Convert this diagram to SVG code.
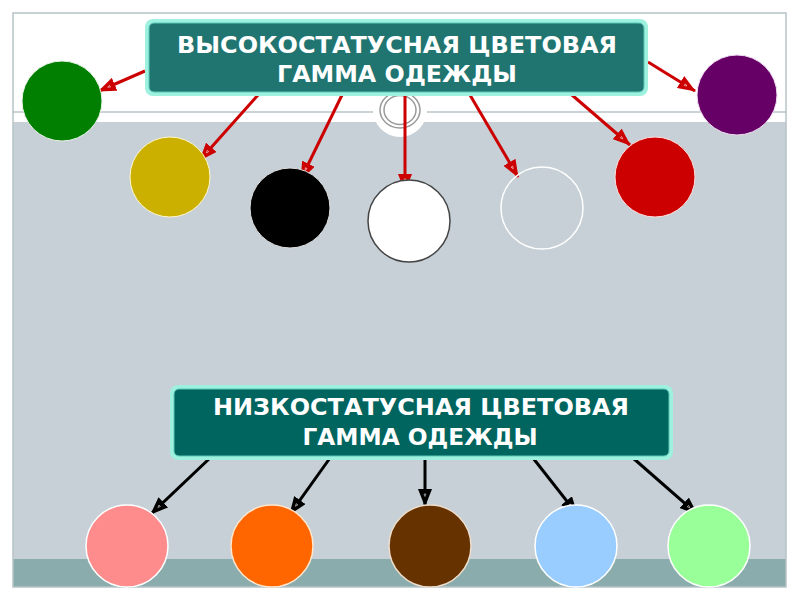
<svg xmlns="http://www.w3.org/2000/svg" width="800" height="600" viewBox="0 0 800 600">
  <style>
    .title { font-family: "DejaVu Sans", "Liberation Sans", sans-serif; font-weight: bold; font-size: 23px; fill: #ffffff; text-anchor: middle; }
    .red { stroke: #cc0000; stroke-width: 3; fill: none; marker-end: url(#ar); }
    .blk { stroke: #000000; stroke-width: 3; fill: none; marker-end: url(#ab); }
  </style>
  <defs>
    <marker id="ar" viewBox="0 0 18 14" refX="17" refY="7" markerWidth="18" markerHeight="14" orient="auto" markerUnits="userSpaceOnUse">
      <path d="M0,0 L18,7 L0,14 z" fill="#cc0000"/>
      <path d="M5,6 L7.5,7 L5,8 z" fill="none" stroke="#ffffff" stroke-width="0.5"/>
    </marker>
    <marker id="ab" viewBox="0 0 18 14" refX="17" refY="7" markerWidth="18" markerHeight="14" orient="auto" markerUnits="userSpaceOnUse">
      <path d="M0,0 L18,7 L0,14 z" fill="#000000"/>
      <path d="M5,6 L7.5,7 L5,8 z" fill="none" stroke="#ffffff" stroke-width="0.5"/>
    </marker>
  </defs>

  <!-- background -->
  <rect x="0" y="0" width="800" height="600" fill="#ffffff"/>
  <rect x="13" y="122" width="773" height="437" fill="#c6d0d6"/>
  <rect x="13" y="559" width="773" height="28" fill="#8aacad"/>
  <rect x="13" y="13" width="773" height="574" fill="none" stroke="#b7c3c8" stroke-width="1.5"/>
  <line x1="13" y1="112" x2="373" y2="112" stroke="#9aa8ad" stroke-width="1.2"/>
  <line x1="427" y1="112" x2="786" y2="112" stroke="#9aa8ad" stroke-width="1.2"/>
  <circle cx="400" cy="110" r="27" fill="#ffffff"/>
  <ellipse cx="400" cy="110" rx="20" ry="18" fill="none" stroke="#9a9a9a" stroke-width="1.5"/>
  <ellipse cx="400" cy="110" rx="16" ry="14.5" fill="none" stroke="#9a9a9a" stroke-width="1.5"/>

  <!-- connectors -->
  <g id="connectors">
    <line class="red" x1="145" y1="71" x2="99" y2="91"/>
    <line class="red" x1="258" y1="95" x2="200" y2="160"/>
    <line class="red" x1="342" y1="95" x2="301" y2="179"/>
    <line class="red" x1="405" y1="92" x2="405" y2="191"/>
    <line class="red" x1="470" y1="95" x2="518" y2="177"/>
    <line class="red" x1="572" y1="95" x2="630" y2="145"/>
    <line class="red" x1="648" y1="62" x2="695" y2="91"/>
    <line class="blk" x1="210" y1="458" x2="151" y2="514"/>
    <line class="blk" x1="330" y1="458" x2="290" y2="514"/>
    <line class="blk" x1="425" y1="458" x2="425" y2="506"/>
    <line class="blk" x1="533" y1="458" x2="577" y2="514"/>
    <line class="blk" x1="633" y1="458" x2="697" y2="514"/>
  </g>

  <!-- title nodes -->
  <g id="high-title">
    <rect x="145" y="19" width="503" height="77" rx="8" fill="#9ef0df"/>
    <rect x="149" y="23" width="495" height="69" rx="5" fill="#207571" stroke="#5cc9b8" stroke-width="1"/>
    <text class="title" x="397" y="53" textLength="440" lengthAdjust="spacingAndGlyphs">ВЫСОКОСТАТУСНАЯ ЦВЕТОВАЯ</text>
    <text class="title" x="397" y="82" textLength="240" lengthAdjust="spacingAndGlyphs">ГАММА ОДЕЖДЫ</text>
  </g>
  <g id="low-title">
    <rect x="170" y="385" width="503" height="75" rx="8" fill="#9ef0df"/>
    <rect x="174" y="389" width="495" height="67" rx="5" fill="#00645f" stroke="#5cc9b8" stroke-width="1"/>
    <text class="title" x="421" y="415" textLength="416" lengthAdjust="spacingAndGlyphs">НИЗКОСТАТУСНАЯ ЦВЕТОВАЯ</text>
    <text class="title" x="420" y="445" textLength="235" lengthAdjust="spacingAndGlyphs">ГАММА ОДЕЖДЫ</text>
  </g>

  <!-- high status colours -->
  <g id="green"><circle cx="62" cy="101" r="40" fill="#007f00" stroke="#e6f2e6" stroke-width="1"/></g>
  <g id="yellow"><circle cx="170" cy="177" r="40" fill="#ccb000" stroke="#fff7cc" stroke-width="1"/></g>
  <g id="black"><circle cx="290" cy="208" r="40" fill="#000000" stroke="#dddddd" stroke-width="1"/></g>
  <g id="white"><circle cx="409" cy="221" r="41" fill="#ffffff" stroke="#444444" stroke-width="1.5"/></g>
  <g id="clear"><circle cx="542" cy="208" r="41" fill="none" stroke="#ffffff" stroke-width="1.5"/></g>
  <g id="red"><circle cx="655" cy="177" r="40" fill="#cc0000" stroke="#ffdddd" stroke-width="1"/></g>
  <g id="purple"><circle cx="737" cy="95" r="40" fill="#660066" stroke="#f0ddf0" stroke-width="1"/></g>

  <!-- low status colours -->
  <g id="pink"><circle cx="127" cy="546" r="41" fill="#ff8c8c" stroke="#ffffff" stroke-width="1.5"/></g>
  <g id="orange"><circle cx="272" cy="546" r="41" fill="#ff6600" stroke="#ffe6cc" stroke-width="1.5"/></g>
  <g id="brown"><circle cx="430" cy="546" r="41" fill="#663300" stroke="#eeddcc" stroke-width="1.5"/></g>
  <g id="lightblue"><circle cx="576" cy="546" r="41" fill="#99ccff" stroke="#ffffff" stroke-width="1.5"/></g>
  <g id="lightgreen"><circle cx="709" cy="546" r="41" fill="#99ff99" stroke="#ffffff" stroke-width="1.5"/></g>
</svg>
